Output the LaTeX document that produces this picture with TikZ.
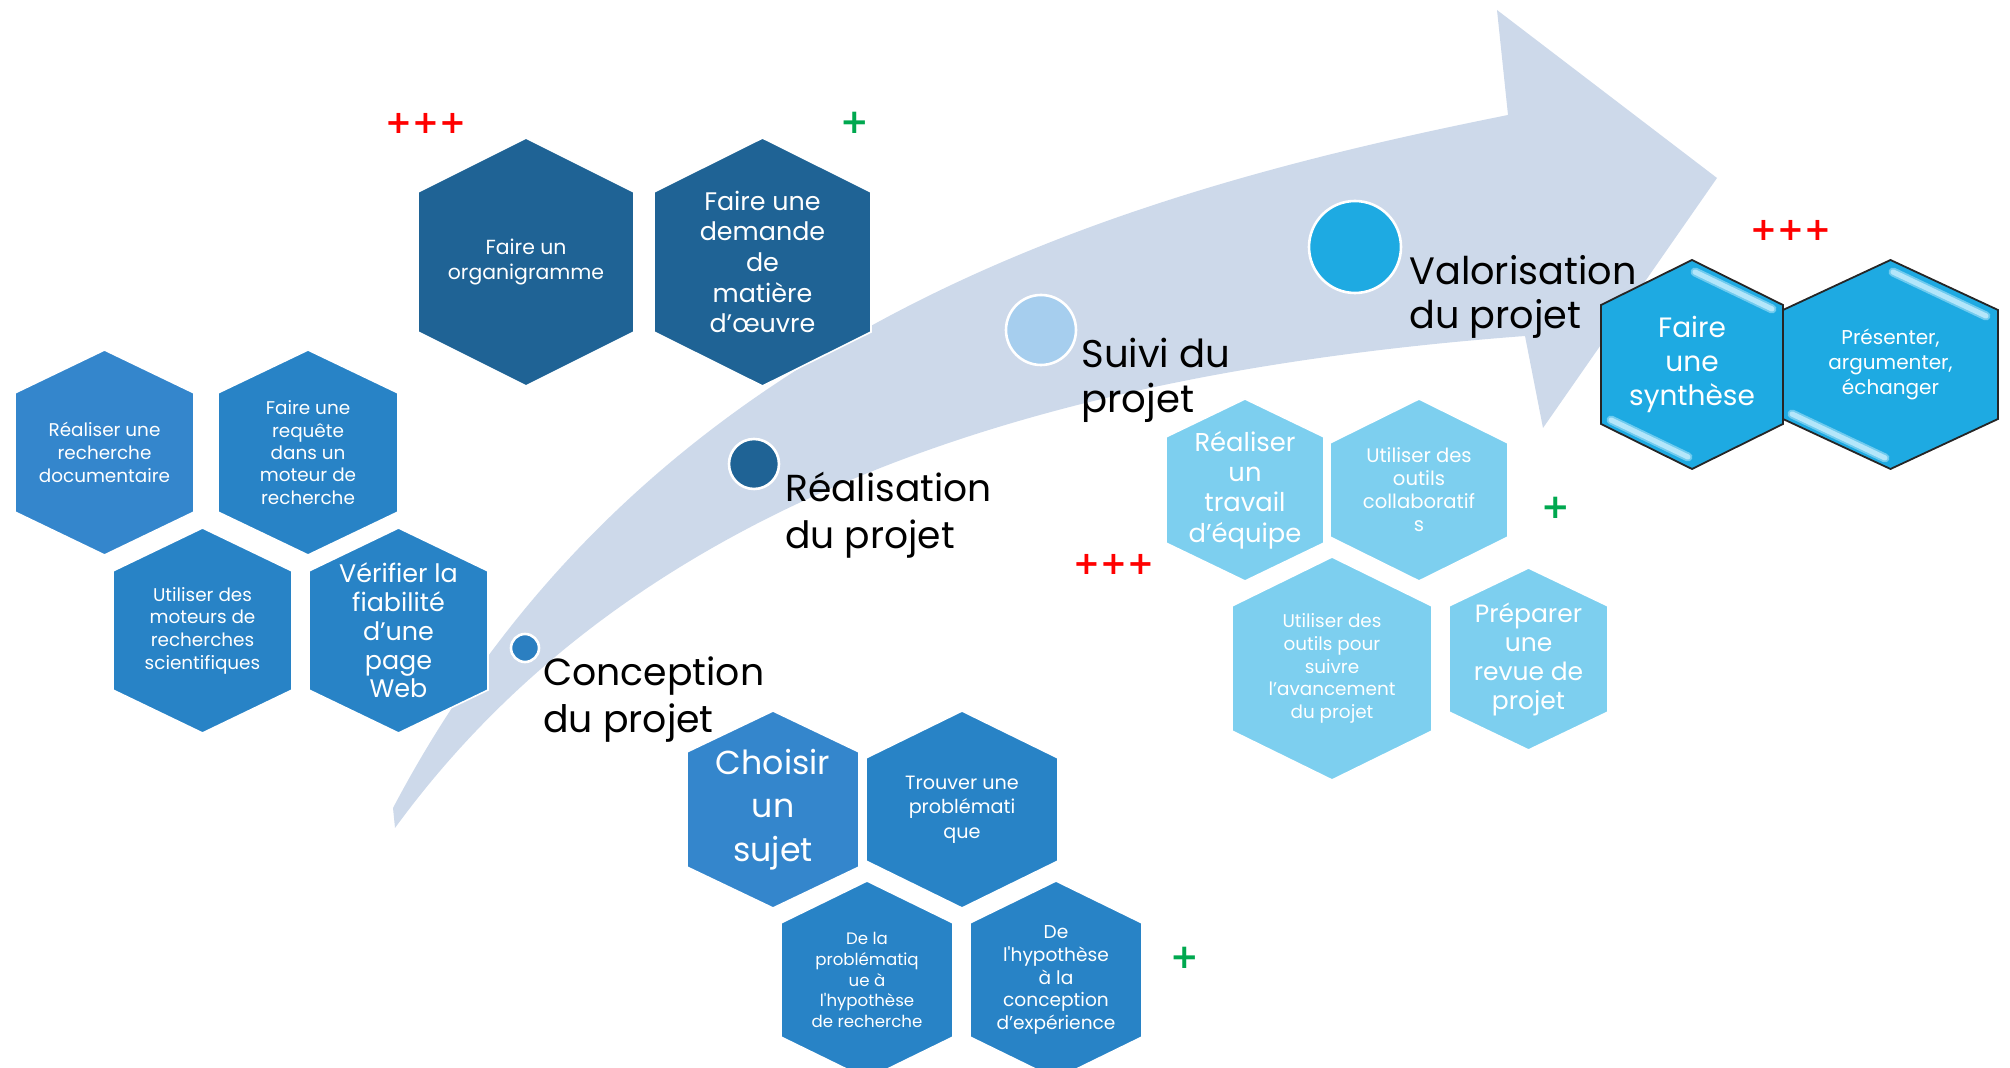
\documentclass[tikz,border=0pt]{standalone}
\usepackage{fontspec}
\setmainfont{Poppins}
\newfontfamily\plusfont{DejaVu Sans}
\definecolor{arrowcol}{HTML}{CDD9EA}
\definecolor{hexAcol}{HTML}{3486CC}
\definecolor{hexBcol}{HTML}{2883C6}
\definecolor{hexDcol}{HTML}{1F6395}
\definecolor{hexLcol}{HTML}{7DCFEF}
\definecolor{hexScol}{HTML}{1EAAE2}
\definecolor{dotAcol}{HTML}{2B7FC1}
\definecolor{dotCcol}{HTML}{A6CEEE}
\definecolor{plusgreencol}{HTML}{00A84F}
\newcommand{\hexfs}[2]{\fontsize{#1}{#2}\selectfont}
\newcommand{\hexcell}[9]{%
  \fill[#7] (#2,#3) ++(0,-#5) -- ++(#4,#6) -- ++(0,{2*#5-2*#6}) -- ++(-#4,#6) -- ++(-#4,-#6) -- ++(0,{2*#6-2*#5}) -- cycle;
  \node[hextext,#8] (#1) at (#2,#3) {#9};
}
\tikzset{
  hexbase/.style={draw=white, line width=0.8pt, line join=miter},
  hexA/.style={hexbase, fill=hexAcol},
  hexB/.style={hexbase, fill=hexBcol},
  hexD/.style={hexbase, fill=hexDcol},
  hexL/.style={hexbase, fill=hexLcol},
  hexS/.style={fill=hexScol, draw=black!85, line width=0.9pt},
  hextext/.style={text=white, align=center, inner sep=0pt},
  hilite/.style={draw=white!70!cyan, line width=2.6pt, line cap=round},
  hiliteglow/.style={draw=cyan!35, line width=4.5pt, line cap=round, opacity=0.6},
  steplabel/.style={anchor=base west, align=left, inner sep=0pt, text=black},
  dot/.style={circle, draw=white, line width=1.3pt, inner sep=0pt},
  plusred/.style={text=red, inner sep=0pt, font=\plusfont\bfseries\fontsize{16}{16}\selectfont},
  plusgreen/.style={text=plusgreencol, inner sep=0pt, font=\plusfont\bfseries\fontsize{17}{17}\selectfont},
}
\begin{document}
\begin{tikzpicture}[x=0.5pt,y=-0.5pt]
\useasboundingbox (0,0) rectangle (2010,1068);
\clip (0,0) rectangle (2010,1068);

% big curved arrow
\fill[arrowcol] (393,808) .. controls (643,333) and (1108,195) .. (1508,115)
  -- (1497,10) -- (1717,178) -- (1543,428) -- (1525,336)
  .. controls (1075,370) and (645,485) .. (395,828) -- cycle;

% group 1
\hexcell{h1}{104.5}{452.5}{89.5}{102.5}{43}{hexA}{font=\hexfs{9.2}{11.5}}{Réaliser une\\recherche\\documentaire}
\hexcell{h2}{308}{452.5}{90}{102.5}{43}{hexB}{font=\hexfs{9.2}{11.2}}{Faire une\\requête\\dans un\\moteur de\\recherche}
\hexcell{h3}{202.5}{630.5}{89.5}{102.5}{43}{hexB}{font=\hexfs{9.2}{11.3}}{Utiliser des\\moteurs de\\recherches\\scientifiques}
\hexcell{h4}{398.5}{630.5}{89.5}{102.5}{43}{hexB}{font=\hexfs{12.7}{14.4}}{Vérifier la\\fiabilité\\d’une\\page\\Web}

% group 2
\hexcell{h5}{526}{262}{108}{124}{54}{hexD}{font=\hexfs{10.2}{12.5}}{Faire un\\organigramme}
\hexcell{h6}{762.5}{262}{108.5}{124}{54}{hexD}{font=\hexfs{12.7}{15.3}}{Faire une\\demande\\de\\matière\\d’œuvre}

% group 3
\hexcell{h7}{773}{809.5}{86}{98.5}{41}{hexA}{font=\hexfs{16.6}{21.8}}{Choisir\\un\\sujet}
\hexcell{h8}{962}{809.5}{96}{98.5}{47}{hexB}{font=\hexfs{9.6}{12.3}}{Trouver une\\problémati\\que}
\hexcell{h9}{867}{980}{86}{99}{42}{hexB}{font=\hexfs{8.3}{10.4}}{De la\\problématiq\\ue à\\l\textquotesingle hypothèse\\de recherche}
\hexcell{h10}{1056}{980}{86}{99}{42}{hexB}{font=\hexfs{9.3}{11.3}}{De\\l\textquotesingle hypothèse\\à la\\conception\\d’expérience}

% group 4
\hexcell{h11}{1245}{490}{79}{91}{38}{hexL}{font=\hexfs{12.9}{15.2}}{Réaliser\\un\\travail\\d’équipe}
\hexcell{h12}{1419}{490}{89}{91}{44}{hexL}{font=\hexfs{9.8}{11.5}}{Utiliser des\\outils\\collaboratif\\s}
\hexcell{h13}{1332}{668.5}{100}{111.5}{49}{hexL}{font=\hexfs{9.2}{11.3}}{Utiliser des\\outils pour\\suivre\\l’avancement\\du projet}
\hexcell{h14}{1528.5}{659}{79.5}{91}{38}{hexL}{font=\hexfs{12.5}{14.5}}{Préparer\\une\\revue de\\projet}

% group 5
\hexcell{h15}{1692}{364.5}{91}{104.5}{45}{hexS}{font=\hexfs{14}{17}}{Faire\\une\\synthèse}
\hexcell{h16}{1890.5}{364.5}{107.5}{104.5}{50}{hexS}{font=\hexfs{10}{12.5}}{Présenter,\\argumenter,\\échanger}
\draw[hiliteglow] (1695,272) -- (1772,309);
\draw[hilite] (1695,272) -- (1772,309);
\draw[hiliteglow] (1611,420) -- (1688,457);
\draw[hilite] (1611,420) -- (1688,457);
\draw[hiliteglow] (1893,272) -- (1986,316);
\draw[hilite] (1893,272) -- (1986,316);
\draw[hiliteglow] (1792,414) -- (1885,458);
\draw[hilite] (1792,414) -- (1885,458);

% timeline dots
\node[dot, fill=dotAcol, minimum size=14pt] (c1) at (525,648) {};
\node[dot, fill=hexDcol, minimum size=25pt] (c2) at (754,464) {};
\node[dot, fill=dotCcol, minimum size=35pt] (c3) at (1041,330) {};
\node[dot, fill=hexScol, minimum size=46pt] (c4) at (1355,247) {};

% step labels (anchor = baseline of the last line)
\node[steplabel, font=\hexfs{18.9}{23.5}] (l1) at (543,733) {Conception\\du projet};
\node[steplabel, font=\hexfs{18.8}{23.5}] (l2) at (785,549) {Réalisation\\du projet};
\node[steplabel, font=\hexfs{19.3}{22.5}] (l3) at (1081,413) {Suivi du\\projet};
\node[steplabel, font=\hexfs{19.1}{22.3}] (l4) at (1409,329) {Valorisation\\du projet};

% importance marks
\node[plusred] (p1) at (426,123.5) {+++};
\node[plusgreen] (p2) at (854.5,123) {+};
\node[plusgreen] (p3) at (1185,958) {+};
\node[plusgreen] (p4) at (1556,508) {+};
\node[plusred] (p5) at (1114,564.5) {+++};
\node[plusred] (p6) at (1791,230.5) {+++};
\end{tikzpicture}
\end{document}
